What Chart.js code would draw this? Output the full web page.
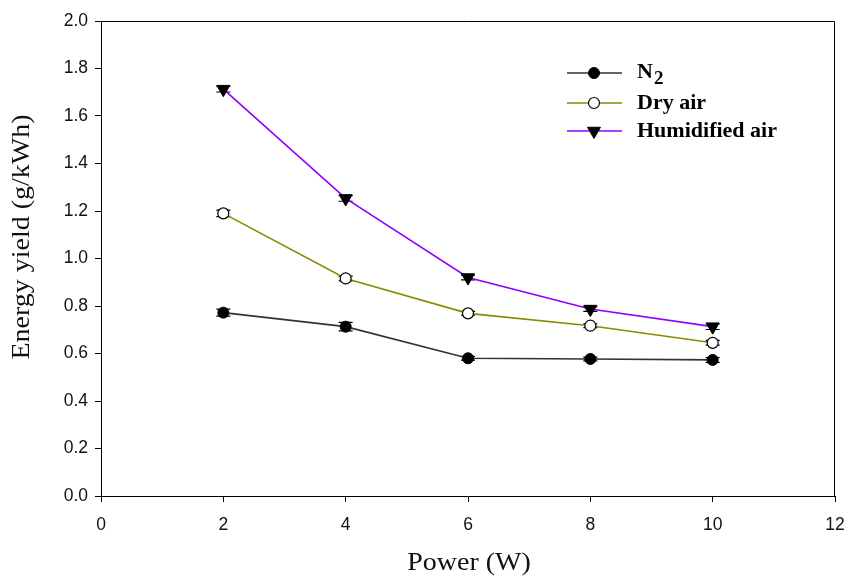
<!DOCTYPE html>
<html>
<head>
<meta charset="utf-8">
<script src="https://cdn.jsdelivr.net/npm/chart.js@4.4.1/dist/chart.umd.min.js"></script>
<style>
    html, body { margin: 0; padding: 0; background: #fff; }
</style>
</head>
<body>
<canvas id="myChart" width="849" height="576"></canvas>
<script>
// data
const power = [2, 4, 6, 8, 10];
const n2 = [0.772, 0.713, 0.580, 0.577, 0.573];
const n2Err = [0.015, 0.018, 0.008, 0.008, 0.010];
const dryAir = [1.190, 0.916, 0.769, 0.717, 0.645];
const dryAirErr = [0.014, 0.010, 0.008, 0.008, 0.010];
const humidAir = [1.713, 1.253, 0.920, 0.787, 0.713];
const humidAirErr = [0.012, 0.012, 0.010, 0.010, 0.012];
const seriesNames = ['N2', 'Dry air', 'Humidified air'];
const xTicks = [0, 2, 4, 6, 8, 10, 12];
const yTicks = [0, 0.2, 0.4, 0.6, 0.8, 1.0, 1.2, 1.4, 1.6, 1.8, 2.0];
const xTitle = 'Power (W)';
const yTitle = 'Energy yield (g/kWh)';

const tickFont = { family: "'Liberation Sans', Arial, sans-serif", size: 17.5 };
const serif = "'Liberation Serif', 'Times New Roman', serif";

function toPoints(ys) {
    return power.map((x, i) => ({ x: x, y: ys[i] }));
}

/**
 * error bars, drawn under the markers
 */
const errorBars = {
    id: 'errorBars',
    beforeDatasetsDraw(chart) {
        const ctx = chart.ctx;
        const xs = chart.scales.x, ys = chart.scales.y;
        ctx.save();
        ctx.strokeStyle = '#000';
        ctx.lineWidth = 1.2;
        chart.data.datasets.forEach(ds => {
            ds.errors.forEach((e, i) => {
                const px = xs.getPixelForValue(ds.data[i].x);
                const top = ys.getPixelForValue(ds.data[i].y + e);
                const bot = ys.getPixelForValue(ds.data[i].y - e);
                ctx.beginPath();
                ctx.moveTo(px, top); ctx.lineTo(px, bot);
                ctx.moveTo(px - 7, top); ctx.lineTo(px + 7, top);
                ctx.moveTo(px - 7, bot); ctx.lineTo(px + 7, bot);
                ctx.stroke();
            });
        });
        ctx.restore();
    }
};

/**
 * box frame, axis titles (the original type is a bit wide) and legend
 */
const frameAndLegend = {
    id: 'frameAndLegend',
    afterDraw(chart) {
        const ctx = chart.ctx;
        const a = chart.chartArea;
        ctx.save();
        ctx.strokeStyle = '#000';
        ctx.lineWidth = 1;
        ctx.beginPath();
        ctx.moveTo(a.left, a.top + 0.5);
        ctx.lineTo(a.right - 0.5, a.top + 0.5);
        ctx.lineTo(a.right - 0.5, a.bottom);
        ctx.stroke();

        // axis titles
        ctx.fillStyle = '#111';
        ctx.textAlign = 'center';
        ctx.textBaseline = 'middle';
        ctx.font = '25px ' + serif;
        ctx.save();
        ctx.translate(469, 563);
        ctx.scale(1.12, 1);
        ctx.fillText(xTitle, 0, 0);
        ctx.restore();
        ctx.save();
        ctx.translate(22, 237);
        ctx.rotate(-Math.PI / 2);
        ctx.scale(1.12, 1);
        ctx.fillText(yTitle, 0, 0);
        ctx.restore();

        // legend
        const rows = [73, 103, 131];
        chart.data.datasets.forEach((ds, i) => {
            const y = rows[i];
            ctx.strokeStyle = ds.borderColor;
            ctx.lineWidth = ds.borderWidth;
            ctx.beginPath();
            ctx.moveTo(567, y); ctx.lineTo(622, y);
            ctx.stroke();
            ctx.fillStyle = ds.pointBackgroundColor;
            ctx.strokeStyle = ds.pointBorderColor;
            ctx.lineWidth = ds.pointBorderWidth;
            Chart.helpers.drawPoint(ctx, {
                pointStyle: ds.pointStyle,
                radius: ds.pointRadius,
                rotation: ds.pointRotation || 0,
                borderWidth: ds.pointBorderWidth
            }, 594, y);

            ctx.fillStyle = '#000';
            ctx.textBaseline = 'middle';
            ctx.textAlign = 'left';
            ctx.font = 'bold 22px ' + serif;
            if (ds.label === 'N2') {
                ctx.fillText('N', 637, y - 1);
                const w = ctx.measureText('N').width;
                ctx.font = 'bold 19px ' + serif;
                ctx.fillText('2', 637 + w + 1, y + 6);
            } else {
                ctx.fillText(ds.label, 637, y);
            }
        });
        ctx.restore();
    }
};

const chartData = {
    datasets: [{
        label: seriesNames[0],
        data: toPoints(n2),
        errors: n2Err,
        borderColor: '#333333',
        borderWidth: 1.6,
        pointStyle: 'circle',
        pointRadius: 5.5,
        pointBackgroundColor: '#000',
        pointBorderColor: '#000',
        pointBorderWidth: 1
    }, {
        label: seriesNames[1],
        data: toPoints(dryAir),
        errors: dryAirErr,
        borderColor: '#8a8a00',
        borderWidth: 1.6,
        pointStyle: 'circle',
        pointRadius: 5.5,
        pointBackgroundColor: '#fff',
        pointBorderColor: '#000',
        pointBorderWidth: 1.2
    }, {
        label: seriesNames[2],
        data: toPoints(humidAir),
        errors: humidAirErr,
        borderColor: '#8f00ff',
        borderWidth: 1.6,
        pointStyle: 'triangle',
        pointRotation: 180,
        pointRadius: 7.5,
        pointBackgroundColor: '#000',
        pointBorderColor: '#000',
        pointBorderWidth: 1
    }]
};

const chartConfig = {
    type: 'line',
    data: chartData,
    options: {
        responsive: false,
        animation: false,
        devicePixelRatio: 1,
        layout: {
            padding: { top: 21, right: 14, left: 0, bottom: 0 }
        },
        plugins: {
            legend: { display: false },
            tooltip: { enabled: false }
        },
        elements: {
            line: { tension: 0 }
        },
        scales: {
            x: {
                type: 'linear',
                min: 0,
                max: 12,
                afterBuildTicks(scale) {
                    scale.ticks = xTicks.map(v => ({ value: v }));
                },
                ticks: {
                    color: '#111',
                    font: tickFont,
                    padding: 13
                },
                grid: {
                    drawOnChartArea: false,
                    drawTicks: true,
                    tickLength: 6,
                    color: '#000'
                },
                border: { color: '#000', width: 1 },
                afterFit(scale) {
                    scale.height = 80;
                    scale.paddingLeft = 0;
                    scale.paddingRight = 0;
                }
            },
            y: {
                type: 'linear',
                min: 0,
                max: 2,
                afterBuildTicks(scale) {
                    scale.ticks = yTicks.map(v => ({ value: v }));
                },
                ticks: {
                    color: '#111',
                    font: tickFont,
                    padding: 7,
                    callback: v => v.toFixed(1)
                },
                grid: {
                    drawOnChartArea: false,
                    drawTicks: true,
                    tickLength: 6,
                    color: '#000'
                },
                border: { color: '#000', width: 1 },
                afterFit(scale) {
                    scale.width = 101;
                    scale.paddingTop = 0;
                    scale.paddingBottom = 0;
                }
            }
        }
    },
    plugins: [errorBars, frameAndLegend]
};

var myChart = new Chart(
    document.getElementById('myChart'),
    chartConfig
);
</script>
</body>
</html>
